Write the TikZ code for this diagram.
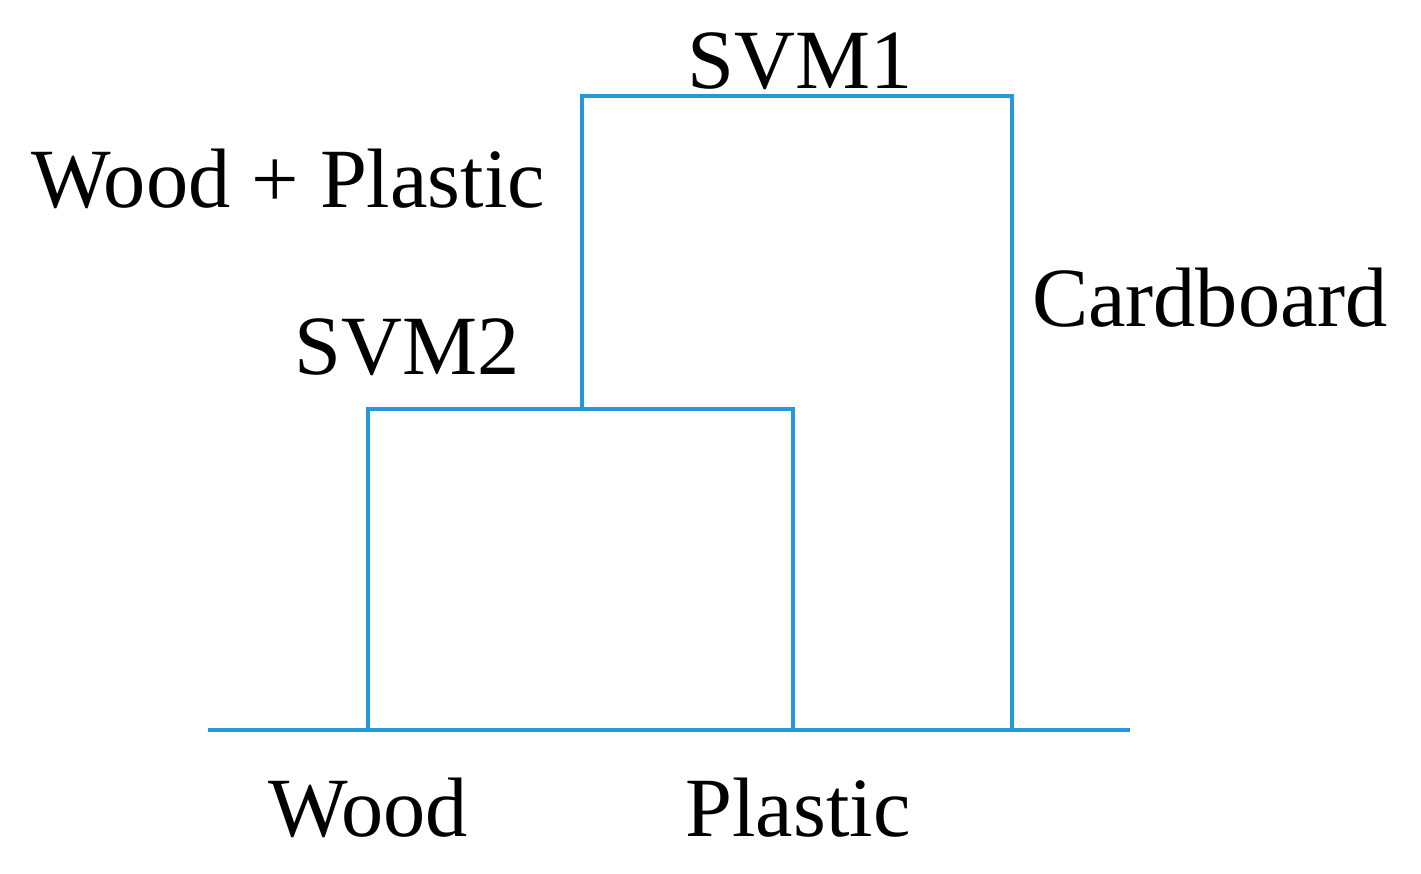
\documentclass[tikz,border=0pt]{standalone}
\usepackage{fontspec}
\setmainfont{Liberation Serif}
\definecolor{ln}{RGB}{35,152,218}
\begin{document}
\begin{tikzpicture}[x=0.02cm,y=-0.02cm,
  br/.style={draw=ln,line width=0.08cm},
  lab/.style={font=\fontsize{48}{57}\selectfont,inner sep=0}]
\useasboundingbox (0,0) rectangle (1421,873);
\coordinate (L) at (208,730);
\coordinate (R) at (1130,730);
\coordinate (w) at (368,730);
\coordinate (p) at (793,730);
\coordinate (c) at (1012,730);
\coordinate (w2) at (368,409);
\coordinate (p2) at (793,409);
\coordinate (m) at (582,409);
\coordinate (m1) at (582,96);
\coordinate (c1) at (1012,96);
\draw[br] (L) -- (R);
\draw[br] (w) -- (w2) -- (p2) -- (p);
\draw[br] (m) -- (m1) -- (c1) -- (c);
\node[lab] (s1) at (800,61) {SVM1};
\node[lab] (wp) at (288,179) {Wood + Plastic};
\node[lab] (s2) at (407,347) {SVM2};
\node[lab] (cb) at (1210,298) {Cardboard};
\node[lab] (wd) at (368,808) {Wood};
\node[lab] (pl) at (798,808) {Plastic};
\end{tikzpicture}
\end{document}
